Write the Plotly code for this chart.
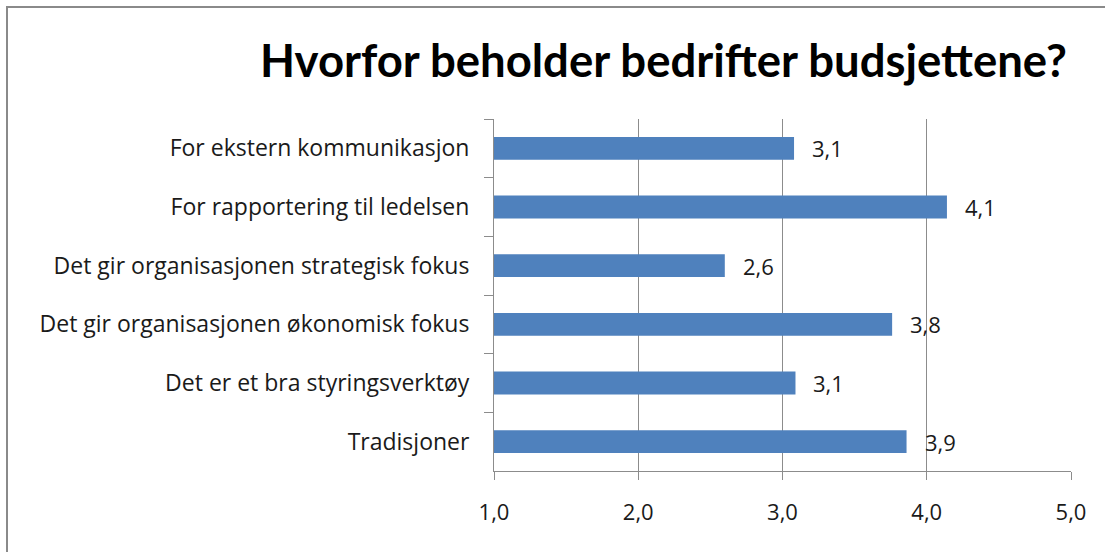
import plotly.graph_objects as go

categories = [
    "For ekstern kommunikasjon",
    "For rapportering til ledelsen",
    "Det gir organisasjonen strategisk fokus",
    "Det gir organisasjonen økonomisk fokus",
    "Det er et bra styringsverktøy",
    "Tradisjoner",
]
values = [3.08, 4.14, 2.60, 3.76, 3.09, 3.86]
x_ticks = [1, 2, 3, 4, 5]
x_tick_labels = ["1,0", "2,0", "3,0", "4,0", "5,0"]
title_text = "Hvorfor beholder bedrifter budsjettene?"

W, H = 1105, 552
L, R, T, B = 494, 34, 119, 81
PW, PH = W - L - R, H - T - B


def px_x(x):
    return (x - L) / PW


def px_y(y):
    return (H - B - y) / PH


label_font = "Open Sans, sans-serif"
title_font = "Lato, Open Sans, sans-serif"
text_color = "#1a1a1a"
axis_color = "#8c8c8c"

fig = go.Figure()
fig.add_trace(go.Bar(
    x=[v - 1 for v in values],
    y=categories,
    orientation="h",
    base=1,
    marker=dict(color="#4F81BD", line=dict(width=0)),
    width=0.39,
    hoverinfo="skip",
))

for c, v in zip(categories, values):
    fig.add_annotation(
        x=v, y=c, xref="x", yref="y",
        text=f"{v:.1f}".replace(".", ","),
        showarrow=False, xanchor="left", xshift=16,
        font=dict(family=label_font, size=22, color=text_color),
    )

# title
fig.add_annotation(
    x=px_x(663), y=px_y(60), xref="paper", yref="paper",
    text=f"<b>{title_text}</b>", showarrow=False,
    xanchor="center", yanchor="middle",
    font=dict(family=title_font, size=45.5, color="#000000"),
)

# outer frame (top and left border)
fig.add_shape(type="line", xref="paper", yref="paper",
              x0=px_x(6), x1=px_x(W + 5), y0=px_y(7), y1=px_y(7),
              line=dict(color="#8a8a8a", width=2))
fig.add_shape(type="line", xref="paper", yref="paper",
              x0=px_x(7), x1=px_x(7), y0=px_y(6), y1=px_y(H + 5),
              line=dict(color="#8a8a8a", width=2))

fig.update_layout(
    width=W, height=H,
    margin=dict(l=L, r=R, t=T, b=B, autoexpand=False),
    paper_bgcolor="white", plot_bgcolor="white",
    showlegend=False,
    font=dict(family=label_font, size=22, color=text_color),
    separators=", ",
)
fig.update_xaxes(
    range=[1, 5], tickvals=x_ticks, ticktext=x_tick_labels,
    showgrid=True, gridcolor=axis_color, gridwidth=1,
    showline=True, linecolor=axis_color, linewidth=1,
    ticks="outside", ticklen=8, tickcolor=axis_color,
    tickfont=dict(family=label_font, size=22, color=text_color),
    zeroline=False, ticklabelstandoff=14,
)
fig.update_yaxes(
    type="category", categoryorder="array", categoryarray=categories,
    range=[5.5, -0.5], tickson="boundaries",
    showgrid=False, showline=True, linecolor=axis_color, linewidth=1,
    ticks="outside", ticklen=9, tickcolor=axis_color,
    tickfont=dict(family=label_font, size=23, color=text_color),
    ticklabelstandoff=19,
)

fig.write_html("out.html", config={"displayModeBar": False},
               post_script="document.body.style.margin='0px';")
